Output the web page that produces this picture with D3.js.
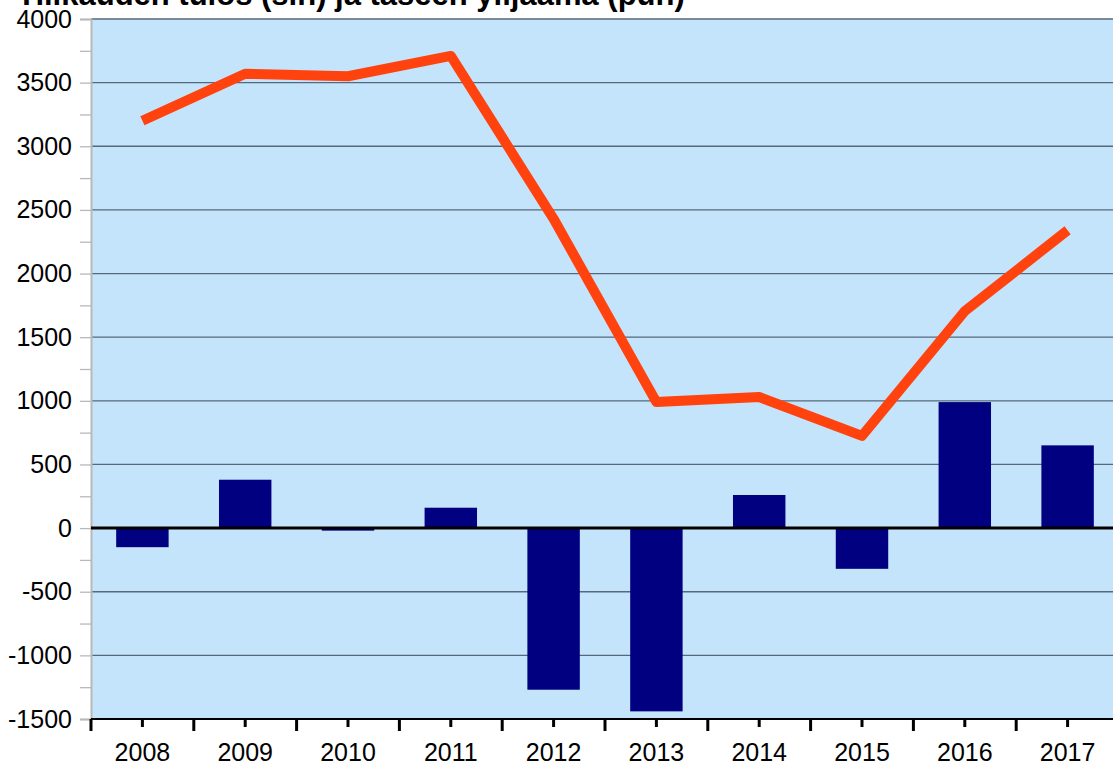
<!DOCTYPE html>
<html>

<head>
    <meta charset="UTF-8">
    <style>
        body { margin: 0; background: #fff; }
        svg { display: block; font-family: "Liberation Sans", Arial, sans-serif; }
    </style>
</head>

<body>
    <svg></svg>
    <script src="https://d3js.org/d3.v7.min.js"></script>

    <script>

        let width = 1113, height = 764;

        // data
        let years = ["2008", "2009", "2010", "2011", "2012", "2013", "2014", "2015", "2016", "2017"];
        let tulos = [-150, 380, -20, 160, -1270, -1440, 260, -320, 990, 650];
        let ylijaama = [3200, 3570, 3550, 3710, 2430, 990, 1030, 725, 1705, 2340];
        let yTicks = [-1500, -1000, -500, 0, 500, 1000, 1500, 2000, 2500, 3000, 3500, 4000];
        let titleText = "Tilikauden tulos (sin) ja taseen ylijäämä (pun)";

        let svg = d3.select("svg")
            .attr("width", width)
            .attr("height", height);

        // plot runs a bit past the right edge of the window
        let plotL = 91, plotR = 1119, plotT = 19, plotB = 719;

        let x = d3.scaleBand()
            .domain(years)
            .range([plotL, plotR])
            .paddingInner(0.49)
            .paddingOuter(0.245);

        let xc = d3.scalePoint()
            .domain(years)
            .range([plotL, plotR])
            .padding(0.5);

        let y = d3.scaleLinear()
            .domain([-1500, 4000])
            .range([plotB, plotT]);

        // plot background
        svg.append("rect")
            .attr("x", plotL)
            .attr("y", plotT)
            .attr("width", plotR - plotL)
            .attr("height", plotB - plotT)
            .attr("fill", "#c4e4fc");

        // grid
        svg.append("g")
            .selectAll("line")
            .data(yTicks.filter(d => d != 0 && d != -1500))
            .enter()
            .append("line")
            .attr("x1", plotL)
            .attr("x2", plotR)
            .attr("y1", d => y(d))
            .attr("y2", d => y(d))
            .attr("stroke", "#56687a")
            .attr("stroke-width", 1.3);

        // y axis
        let yAxis = d3.axisLeft(y)
            .tickValues(d3.range(-1500, 4001, 250))
            .tickSize(11)
            .tickPadding(8)
            .tickFormat(d => d % 500 == 0 ? d : "");

        let ya = svg.append("g")
            .attr("transform", "translate(" + plotL + ",0)")
            .call(yAxis);
        ya.select(".domain").attr("stroke", "#b8b8b8").attr("stroke-width", 2);
        ya.selectAll(".tick line").attr("stroke", "#b8b8b8").attr("stroke-width", 1.3);
        ya.selectAll("text")
            .attr("font-size", 25)
            .attr("fill", "#000")
            .attr("font-family", "Liberation Sans, Arial, sans-serif");

        // bars
        svg.append("g")
            .selectAll("rect")
            .data(years)
            .enter()
            .append("rect")
            .attr("x", d => x(d))
            .attr("width", x.bandwidth())
            .attr("y", (d, i) => y(Math.max(0, tulos[i])))
            .attr("height", (d, i) => Math.abs(y(tulos[i]) - y(0)))
            .attr("fill", "#000080");

        // zero line
        svg.append("line")
            .attr("x1", plotL)
            .attr("x2", plotR)
            .attr("y1", y(0))
            .attr("y2", y(0))
            .attr("stroke", "#000")
            .attr("stroke-width", 3);

        // red line
        let line = d3.line()
            .x((d, i) => xc(years[i]))
            .y(d => y(d));

        svg.append("path")
            .datum(ylijaama)
            .attr("d", line)
            .attr("fill", "none")
            .attr("stroke", "#ff420e")
            .attr("stroke-width", 10)
            .attr("stroke-linejoin", "round");

        // x axis
        svg.append("line")
            .attr("x1", plotL)
            .attr("x2", plotR)
            .attr("y1", plotB)
            .attr("y2", plotB)
            .attr("stroke", "#000")
            .attr("stroke-width", 2);

        let step = (plotR - plotL) / years.length;
        svg.append("g")
            .selectAll("line")
            .data(d3.range(years.length + 1))
            .enter()
            .append("line")
            .attr("x1", i => plotL + i * step)
            .attr("x2", i => plotL + i * step)
            .attr("y1", plotB)
            .attr("y2", plotB + 12)
            .attr("stroke", "#000")
            .attr("stroke-width", 3);

        svg.append("g")
            .selectAll("line")
            .data(years)
            .enter()
            .append("line")
            .attr("x1", d => xc(d))
            .attr("x2", d => xc(d))
            .attr("y1", plotB)
            .attr("y2", plotB + 8)
            .attr("stroke", "#000")
            .attr("stroke-width", 3);

        svg.append("g")
            .selectAll("text")
            .data(years)
            .enter()
            .append("text")
            .attr("x", d => xc(d))
            .attr("y", 761)
            .attr("text-anchor", "middle")
            .attr("font-size", 25)
            .text(d => d);

        // title (cut off at the top edge)
        svg.append("text")
            .attr("x", 17)
            .attr("y", 5)
            .attr("font-size", 31)
            .attr("font-weight", "bold")
            .text(titleText);

    </script>

</body>

</html>
